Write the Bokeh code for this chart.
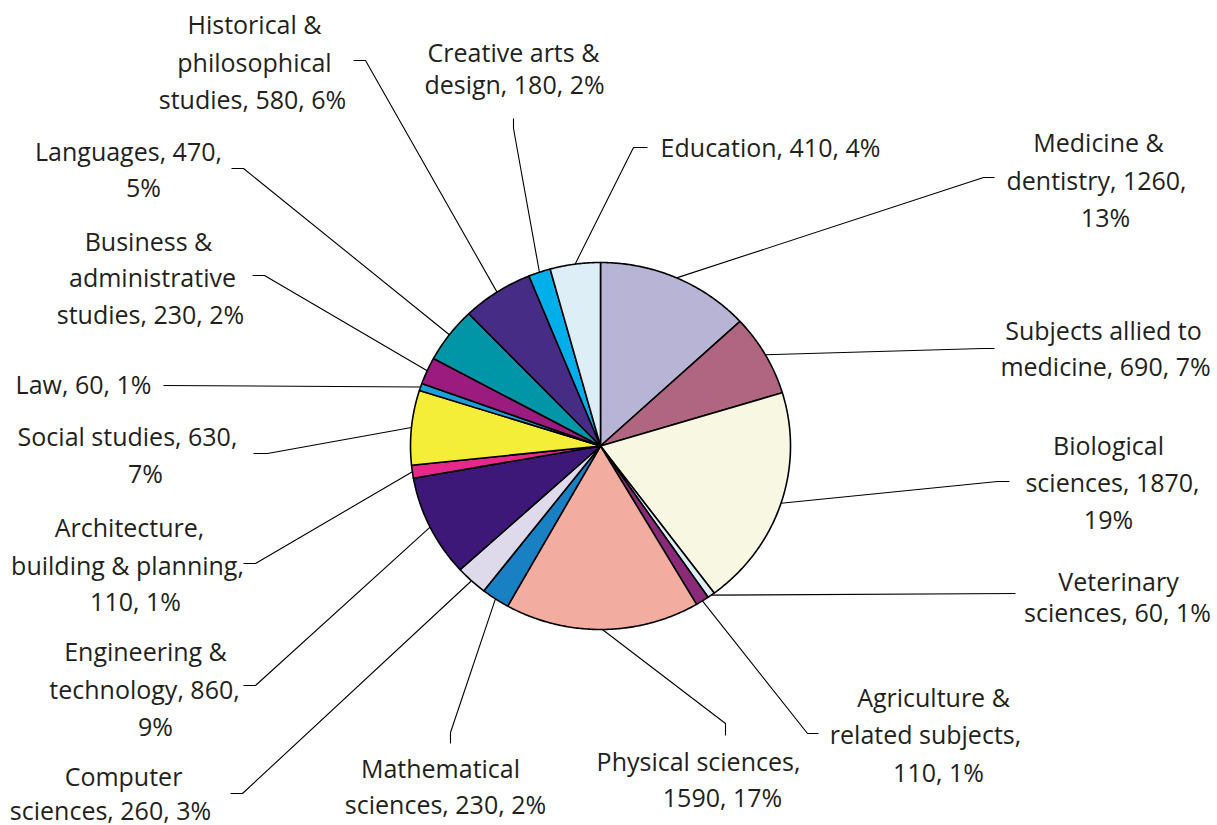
import numpy as np
from bokeh.plotting import figure
from bokeh.models import Range1d, ColumnDataSource
from bokeh.core.properties import value
from bokeh.embed import file_html
from bokeh.resources import INLINE

# ---- data (clockwise from 12 o'clock) ----
categories = [
    "Medicine & dentistry", "Subjects allied to medicine", "Biological sciences",
    "Veterinary sciences", "Agriculture & related subjects", "Physical sciences",
    "Mathematical sciences", "Computer sciences", "Engineering & technology",
    "Architecture, building & planning", "Social studies", "Law",
    "Business & administrative studies", "Languages",
    "Historical & philosophical studies", "Creative arts & design", "Education",
]
values = [1260, 690, 1870, 60, 110, 1590, 230, 260, 860, 110, 630, 60, 230, 470, 580, 180, 410]
colors = ["#B8B4D6", "#B06580", "#F8F8E2", "#DDEEF7", "#8B2A78", "#F2ACA0",
          "#1A80C4", "#DEDAEC", "#3D1878", "#E5288A", "#F5EE38", "#1BA0DC",
          "#9B1B7E", "#0096A8", "#472C85", "#00AEEA", "#DDEEF7"]

# ---- layout (screen pixel coordinates) ----
CX, CY, RX, RY = 600.0, 445.5, 190.0, 183.5
TEXT_DY = -2
words_per_line = [[2, 2, 1], [3, 3], [1, 2, 1], [1, 3], [2, 2, 2], [2, 2], [1, 3], [1, 3],
                  [2, 2, 1], [1, 3, 2], [3, 1], [3], [2, 1, 3], [2, 1], [2, 1, 3], [3, 3], [3]]
line_pos = [
    [(1098, 143), (1096, 181), (1105, 218)],
    [(1103, 331), (1105, 367)],
    [(1108, 446), (1112, 483), (1108, 520)],
    [(1118, 582), (1117, 613)],
    [(933, 698), (925, 735), (938, 773)],
    [(698, 762), (722, 798)],
    [(440, 769), (445, 805)],
    [(123, 777), (110, 811)],
    [(145, 652), (144, 690), (155, 727)],
    [(129, 528), (127, 566), (135, 602)],
    [(127, 437), (145, 474)],
    [(83, 385)],
    [(148, 242), (152, 278), (150, 315)],
    [(128, 152), (143, 188)],
    [(254, 25), (254, 63), (252, 100)],
    [(513, 53), (514, 85)],
    [(770, 148)],
]
leader_pts = [
    [(983, 177), (994, 177)],
    [(982, 348), (994, 348)],
    [(997, 481), (1009, 481)],
    [(1015, 593)],
    [(807, 733), (818, 733)],
    [(725, 723), (725, 735)],
    [(450, 732), (450, 743)],
    [(242, 793), (230, 793)],
    [(255, 685), (243, 685)],
    [(255, 563), (243, 563)],
    [(267, 453), (253, 453)],
    [(163, 385)],
    [(264, 275), (252, 275)],
    [(243, 168), (231, 168)],
    [(365, 60), (353, 60)],
    [(513, 128), (513, 118)],
    [(633, 147), (647, 147)],
]

total = float(sum(values))
cum = np.concatenate([[0.0], np.cumsum(values)])
angles = cum / total * 2 * np.pi

p = figure(width=1217, height=825, output_backend="svg", toolbar_location=None,
           x_range=Range1d(0, 1217), y_range=Range1d(825, 0),
           x_axis_type=None, y_axis_type=None, min_border=0)
p.grid.visible = False
p.outline_line_color = None
p.background_fill_color = "white"

xs, ys = [], []
for i in range(len(values)):
    n = max(3, int(np.degrees(angles[i + 1] - angles[i]) * 2))
    t = np.linspace(angles[i], angles[i + 1], n)
    xs.append([CX] + list(CX + RX * np.sin(t)))
    ys.append([CY] + list(CY - RY * np.cos(t)))
p.patches(xs=xs, ys=ys, fill_color=colors, line_color="black", line_width=1.6,
          line_join="round")

# leader lines
lx, ly = [], []
for i in range(len(values)):
    mid = (angles[i] + angles[i + 1]) / 2
    pts = [(CX + RX * np.sin(mid), CY - RY * np.cos(mid))] + leader_pts[i]
    lx.append([q[0] for q in pts])
    ly.append([q[1] for q in pts])
p.multi_line(xs=lx, ys=ly, line_color="black", line_width=1.1)

# labels
tx, ty, tt = [], [], []
for i, cat in enumerate(categories):
    pct = int(round(values[i] / total * 100))
    words = f"{cat}, {values[i]}, {pct}%".split(" ")
    k = 0
    for j, nw in enumerate(words_per_line[i]):
        tt.append(" ".join(words[k:k + nw]))
        k += nw
        tx.append(line_pos[i][j][0])
        ty.append(line_pos[i][j][1] + TEXT_DY)
src = ColumnDataSource(dict(x=tx, y=ty, text=tt))
p.text(x="x", y="y", text="text", source=src, text_align="center",
       text_baseline="middle", text_font=value("Open Sans"),
       text_font_size="25px", text_color="#231F20")

open("out.html", "w").write(file_html(p, INLINE))
